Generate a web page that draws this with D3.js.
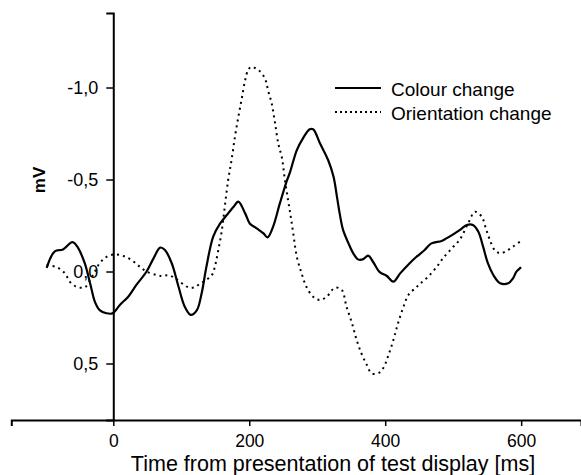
<!DOCTYPE html>
<html>
<head>
<meta charset="utf-8">
<script src="https://cdn.jsdelivr.net/npm/d3@7"></script>
<style>
  html, body { margin: 0; padding: 0; background: #fff; }
  svg { display: block; font-family: "Liberation Sans", Arial, sans-serif; }
</style>
</head>
<body>
<svg id="chart" width="581" height="475"></svg>
<script>
// Grand-average ERP difference waves (µV, negative plotted upward)
const colourTime = [-98, -86, -74, -60, -52, -42, -34, -27, -20, -10, -1, 10, 22, 34, 49, 59, 69, 76, 86, 96,
  105, 114, 123, 130, 137, 147, 157, 167, 177, 184, 194, 201, 211, 221, 227, 235, 245, 255, 260, 270,
  279, 289, 294, 304, 316, 324, 329, 333, 338, 346, 353, 360, 367, 375, 382, 392, 402, 412, 422, 436,
  446, 458, 468, 483, 490, 500, 510, 520, 529, 537, 544, 551, 559, 569, 581, 588, 593, 600];
const colourValue = [-0.02, -0.11, -0.12, -0.16, -0.13, -0.045, 0.065, 0.165, 0.21, 0.227, 0.227, 0.18, 0.137, 0.073, 0.0, -0.07, -0.13, -0.117, -0.045, 0.083,
  0.19, 0.236, 0.21, 0.118, -0.026, -0.19, -0.26, -0.307, -0.352, -0.38, -0.316, -0.26, -0.235, -0.207, -0.186, -0.243, -0.37, -0.49, -0.54, -0.66,
  -0.724, -0.773, -0.773, -0.697, -0.606, -0.515, -0.407, -0.316, -0.226, -0.153, -0.099, -0.066, -0.066, -0.086, -0.053, 0.003, 0.023, 0.055, 0.01, -0.045,
  -0.08, -0.117, -0.153, -0.166, -0.18, -0.202, -0.226, -0.253, -0.253, -0.216, -0.135, -0.045, 0.019, 0.064, 0.064, 0.037, 0.001, -0.023];

const orientTime = [-98, -83, -71, -64, -54, -42, -34, -27, -20, -10, 2, 15, 27, 39, 49, 64, 72, 80, 88, 96,
  105, 112, 120, 127, 135, 145, 150, 154, 159, 164, 169, 174, 179, 184, 189, 194, 199, 204, 211, 218,
  224, 228, 233, 238, 243, 248, 252, 257, 261, 265, 270, 277, 284, 294, 304, 314, 326, 336, 343, 351,
  358, 365, 373, 380, 390, 397, 404, 412, 419, 427, 434, 444, 451, 463, 476, 485, 498, 510, 522, 532,
  542, 548, 554, 561, 569, 579, 588, 598];
const orientValue = [-0.035, -0.023, 0.01, 0.055, 0.083, 0.086, 0.046, 0.0, -0.045, -0.08, -0.093, -0.084, -0.062, -0.026, 0.0, 0.02, 0.025, 0.02, 0.03, 0.05,
  0.075, 0.088, 0.085, 0.068, 0.05, 0.02, -0.035, -0.108, -0.207, -0.352, -0.497, -0.606, -0.733, -0.841, -0.94, -1.04, -1.1, -1.113, -1.1, -1.08,
  -1.04, -0.98, -0.914, -0.805, -0.69, -0.62, -0.51, -0.39, -0.3, -0.2, -0.08, 0.01, 0.083, 0.137, 0.155, 0.137, 0.088, 0.1, 0.19, 0.28,
  0.372, 0.445, 0.508, 0.553, 0.553, 0.526, 0.463, 0.372, 0.28, 0.19, 0.128, 0.091, 0.068, 0.028, -0.026, -0.072, -0.126, -0.175, -0.262, -0.325,
  -0.298, -0.235, -0.171, -0.117, -0.099, -0.113, -0.135, -0.162];

const xTickValues = [0, 200, 400, 600];
const yTickValues = [-1.0, -0.5, 0.0, 0.5];
const yTickLabels = ["-1,0", "-0,5", "0,0", "0,5"];
const seriesNames = ["Colour change", "Orientation change"];

const svg = d3.select("#chart");

const x = d3.scaleLinear().domain([-150, 688]).range([11.3, 581]);
const y = d3.scaleLinear().domain([-1.405, 0.807]).range([13, 420]);

// Axes: x axis along the bottom, y axis crossing at t = 0
const xAxis = svg.append("g")
  .attr("transform", `translate(0,${y.range()[1]})`)
  .call(d3.axisBottom(x).tickValues(xTickValues).tickSizeOuter(0).tickSize(6).tickPadding(8.5));

const yAxis = svg.append("g")
  .attr("transform", `translate(${x(0)},0)`)
  .call(d3.axisLeft(y).tickValues(yTickValues).tickSizeOuter(0).tickSize(7).tickPadding(8)
    .tickFormat((d, i) => yTickLabels[i]));

[xAxis, yAxis].forEach(g => {
  g.select(".domain").attr("stroke", "#000").attr("stroke-width", 2);
  g.selectAll(".tick line").attr("stroke", "#000").attr("stroke-width", 1.5);
  g.selectAll(".tick text").attr("fill", "#000")
    .style("font-family", "'Liberation Sans', Arial, sans-serif")
    .style("font-size", "18px");
});
xAxis.selectAll(".tick text").style("font-size", "17.5px");

// Waveforms
const line = d3.line()
  .x(d => x(d[0]))
  .y(d => y(d[1]))
  .curve(d3.curveCatmullRom.alpha(0.5));

const colourData = colourTime.map((t, i) => [t, colourValue[i]]);
const orientData = orientTime.map((t, i) => [t, orientValue[i]]);

svg.append("path")
  .datum(orientData)
  .attr("d", line)
  .attr("fill", "none")
  .attr("stroke", "#000")
  .attr("stroke-width", 2)
  .attr("stroke-dasharray", "2,4");

svg.append("path")
  .datum(colourData)
  .attr("d", line)
  .attr("fill", "none")
  .attr("stroke", "#000")
  .attr("stroke-width", 2.2);

// Legend
const legend = svg.append("g").attr("transform", "translate(335,88)");
seriesNames.forEach((name, i) => {
  const row = legend.append("g").attr("transform", `translate(0,${i * 24})`);
  row.append("line")
    .attr("x1", 0).attr("x2", 46).attr("y1", 0).attr("y2", 0)
    .attr("stroke", "#000")
    .attr("stroke-width", 2)
    .attr("stroke-dasharray", i === 0 ? null : "2,3");
  row.append("text")
    .attr("x", 56).attr("y", 8)
    .style("font-size", "19px")
    .text(name);
});

// Axis titles
svg.append("text")
  .attr("x", 333).attr("y", 470.5)
  .attr("text-anchor", "middle")
  .style("font-size", "21.5px")
  .text("Time from presentation of test display [ms]");

svg.append("text")
  .attr("transform", "translate(45,180) rotate(-90)")
  .attr("text-anchor", "middle")
  .style("font-size", "17px")
  .style("font-weight", "bold")
  .text("mV");
</script>
</body>
</html>
